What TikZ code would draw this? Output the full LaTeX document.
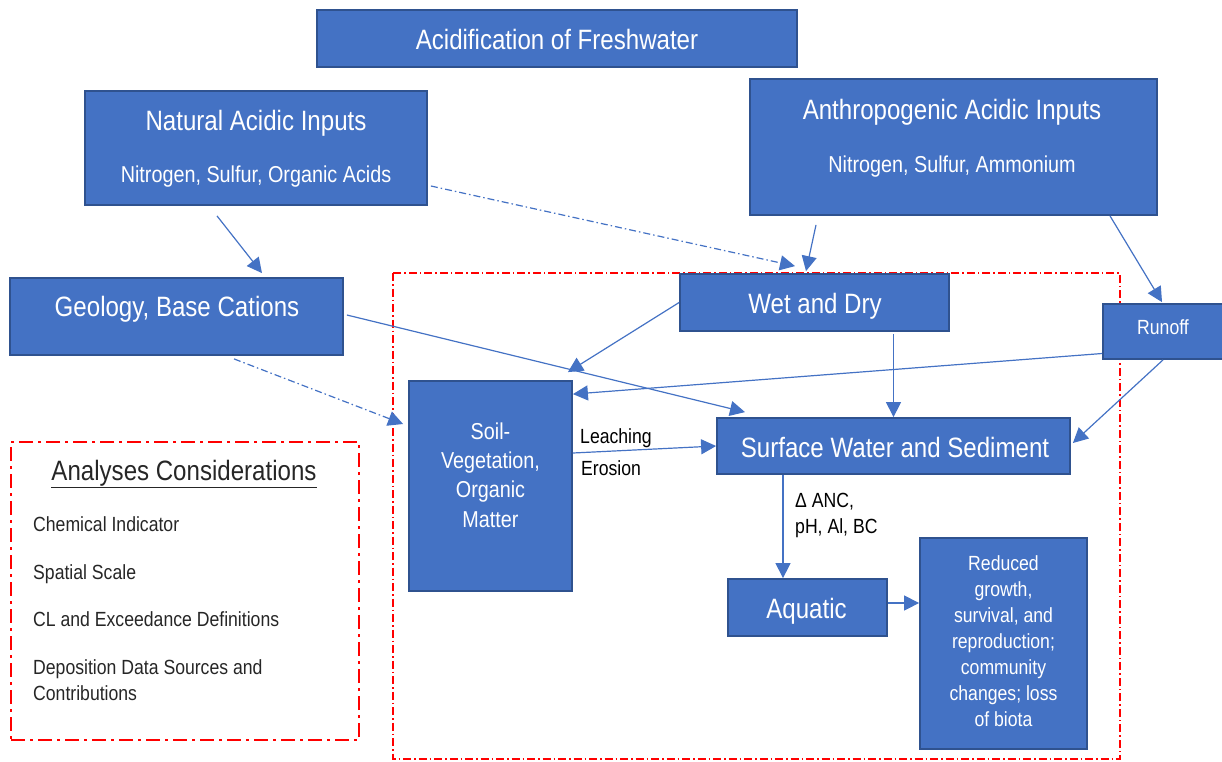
\documentclass[tikz,border=0pt]{standalone}
\usepackage{fontspec}
\setmainfont{Liberation Sans}[FakeStretch=0.86]
\usetikzlibrary{arrows.meta}

\definecolor{boxblue}{HTML}{4472C4}
\definecolor{edgeblue}{HTML}{2F528F}
\definecolor{textgray}{HTML}{262626}

\newcommand{\fntbig}{\fontsize{28}{34}\selectfont}
\newcommand{\fntmed}{\fontsize{23}{29.3}\selectfont}
\newcommand{\fntsmall}{\fontsize{20.5}{26}\selectfont}

\tikzset{
  box/.style={draw=edgeblue, fill=boxblue, line width=1.8pt, inner sep=0pt},
  bigtxt/.style={text=white, font=\fntbig, inner sep=0pt, anchor=base},
  medtxt/.style={text=white, font=\fntmed, inner sep=0pt, align=center},
  smalltxt/.style={text=white, font=\fntsmall, inner sep=0pt, align=center},
  note/.style={text=textgray, font=\fntsmall, inner sep=0pt, anchor=base west, align=left},
  arr/.style={draw=boxblue, line width=1.2pt, -{Triangle[length=15pt,width=15pt]}},
  dasharr/.style={arr, dash pattern=on 7pt off 3pt on 1.5pt off 3pt},
  region/.style={draw=red, line width=1.2pt, dash pattern=on 8pt off 3pt on 1.5pt off 3pt},
  consider/.style={draw=red, line width=2.8pt, dash pattern=on 14pt off 5pt on 3pt off 5pt},
}

\begin{document}
\begin{tikzpicture}[x=1pt,y=-1pt]
  \useasboundingbox (0,0) rectangle (1222,761);
  \clip (0,0) rectangle (1222,761);

  % Frames
  \draw[region] (393,273) rectangle (1120,759);
  \node[consider, minimum width=348pt, minimum height=298pt] (analyses) at (185,591) {};

  % Boxes
  \node[box, minimum width=480pt, minimum height=57pt] (title) at (557,38.5) {};
  \node[box, minimum width=342pt, minimum height=114pt] (natural) at (256,148) {};
  \node[box, minimum width=407pt, minimum height=136pt] (anthro) at (953.5,147) {};
  \node[box, minimum width=333pt, minimum height=77pt] (geology) at (176.5,316.5) {};
  \node[box, minimum width=269pt, minimum height=57pt] (wetdry) at (814.5,302.5) {};
  \node[box, minimum width=124pt, minimum height=55pt] (runoff) at (1165,331.5) {};
  \node[box, minimum width=163pt, minimum height=210pt] (soil) at (490.5,486) {};
  \node[box, minimum width=353pt, minimum height=56pt] (surface) at (893.5,446) {};
  \node[box, minimum width=159pt, minimum height=57pt] (aquatic) at (807.5,607.5) {};
  \node[box, minimum width=167pt, minimum height=211pt] (reduced) at (1003.5,643.5) {};

  % Box texts
  \node[bigtxt] (titleT) at (557,49) {Acidification of Freshwater};
  \node[bigtxt] (naturalT) at (256,130) {Natural Acidic Inputs};
  \node[medtxt, anchor=base] (naturalS) at (256,182) {Nitrogen, Sulfur, Organic Acids};
  \node[bigtxt] (anthroT) at (952,119) {Anthropogenic Acidic Inputs};
  \node[medtxt, anchor=base] (anthroS) at (952,172) {Nitrogen, Sulfur, Ammonium};
  \node[bigtxt] (geologyT) at (177,316) {Geology, Base Cations};
  \node[bigtxt] (wetdryT) at (815,313) {Wet and Dry};
  \node[smalltxt, anchor=base] (runoffT) at (1163,334) {Runoff};
  \node[medtxt] (soilT) at (490.5,475) {Soil-\\Vegetation,\\Organic\\Matter};
  \node[bigtxt] (surfaceT) at (895,457) {Surface Water and Sediment};
  \node[bigtxt] (aquaticT) at (806.5,618) {Aquatic};
  \node[smalltxt] (reducedT) at (1003.5,641.5) {Reduced\\growth,\\survival, and\\reproduction;\\community\\changes; loss\\of biota};

  % Considerations
  \node[bigtxt, text=textgray] (analysesT) at (184,480) {\underline{Analyses Considerations}};
  \node[note] (chem) at (33,531) {Chemical Indicator};
  \node[note] (spatial) at (33,579) {Spatial Scale};
  \node[note] (exceed) at (33,626) {CL and Exceedance Definitions};
  \node[note] (depo) at (33,700) {Deposition Data Sources and\\Contributions};

  % Edge labels
  \node[note, text=black] (leachT) at (580,443) {Leaching};
  \node[note, text=black] (erosionT) at (581,475) {Erosion};
  \node[note, text=black] (ancT) at (795,533) {Δ ANC,\\pH, Al, BC};

  % Arrows
  \draw[arr] ([xshift=-39pt,yshift=-10pt]natural.south) -- ([xshift=85.5pt,yshift=4pt]geology.north);
  \draw[dasharr] ([xshift=3pt,yshift=-38pt]natural.east) -- ([xshift=-19.5pt,yshift=7pt]wetdry.north);
  \draw[arr] ([xshift=-137.5pt,yshift=-9pt]anthro.south) -- ([xshift=-8.5pt,yshift=2pt]wetdry.north);
  \draw[arr] ([xshift=156.5pt]anthro.south) -- ([xshift=-3pt,yshift=1pt]runoff.north);
  \draw[arr] ([xshift=3pt,yshift=1.5pt]geology.east) -- ([xshift=-148.5pt,yshift=5pt]surface.north);
  \draw[dasharr] ([xshift=57.5pt,yshift=-3pt]geology.south) -- ([xshift=-5pt,yshift=62pt]soil.west);
  \draw[arr] (wetdry.west) -- ([xshift=-5pt,yshift=8pt]soil.north east);
  \draw[arr, shorten <=2pt] (wetdry.south -| surface.north) -- (surface.north);
  \draw[arr] ([yshift=-22pt]runoff.west) -- ([yshift=-14pt]soil.north east);
  \draw[arr] ([xshift=-2pt]runoff.south) -- ([xshift=2pt,yshift=3pt]surface.east);
  \draw[arr] ([yshift=33pt]soil.east) -- (surface.west);
  \coordinate (drop) at ([xshift=-24.5pt]aquatic.north);
  \draw[arr] (surface.south -| drop) -- (drop);
  \coordinate (aqout) at ([yshift=4.5pt]aquatic.east);
  \draw[arr] (aqout) -- (aqout -| reduced.west);

\end{tikzpicture}
\end{document}
